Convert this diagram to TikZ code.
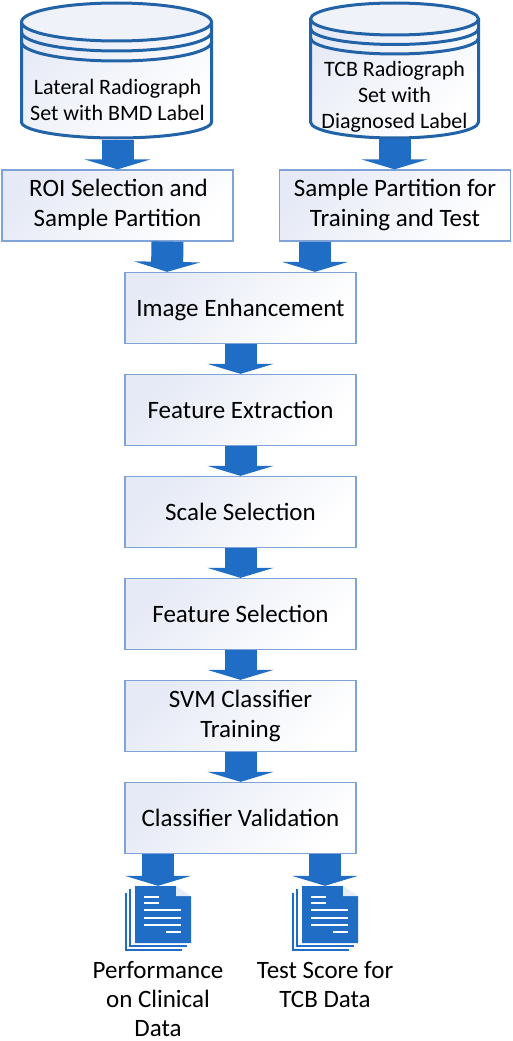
\documentclass[tikz,border=0pt]{standalone}
\usepackage{fontspec}
\setmainfont{Carlito}
\usetikzlibrary{arrows.meta}
\definecolor{flow}{HTML}{1F6DC4}
\definecolor{cyl}{HTML}{2263A8}
\definecolor{edge}{HTML}{7FA3D6}
\definecolor{tint}{HTML}{E6EAF6}
\tikzset{
  x=1pt,y=-1pt,
  procbox/.style={draw=edge,line width=1.3pt,left color=tint,right color=white,shading angle=45,
    minimum width=231pt,minimum height=71pt,inner sep=0pt,align=center,
    font=\fontsize{25}{30}\selectfont,
    execute at begin node={\rule{0pt}{22pt}},execute at end node={\rule[-5pt]{0pt}{5pt}}},
  blk/.style={draw=flow,line width=32pt,-{Triangle[width=66pt,length=10pt]}},
  dbshape/.style={minimum width=#1,minimum height=136pt,inner sep=0pt},
  dbtext/.style={align=center,font=\fontsize{22}{26}\selectfont},
  outtext/.style={align=center,inner sep=0pt,font=\fontsize{25}{29}\selectfont},
  docshape/.style={minimum width=56pt,minimum height=57pt,inner sep=0pt},
  cylline/.style={draw=cyl,line width=3pt},
  sheet/.style={draw=flow,line width=1.3pt},
  docline/.style={draw=white,line width=1.4pt},
}
\newcommand{\dbdraw}[5]{% cx, rx, ry, top centre y, ring step
  \path[left color=tint,right color=white,shading angle=45]
    (#1-#2,#4) -- (#1-#2,122) arc[start angle=180,end angle=360,x radius=#2,y radius=-16]
    -- (#1+#2,#4) arc[start angle=0,end angle=180,x radius=#2,y radius=-#3] -- cycle;
  \draw[cylline,line join=round]
    (#1-#2,#4) -- (#1-#2,122) arc[start angle=180,end angle=360,x radius=#2,y radius=-16] -- (#1+#2,#4);
  \draw[cylline,fill=tint!60!white] (#1,#4) ellipse[x radius=#2,y radius=#3];
  \draw[cylline] (#1-#2,#4+#5) arc[start angle=180,end angle=360,x radius=#2,y radius=-#3];
  \draw[cylline] (#1-#2,#4+2*#5) arc[start angle=180,end angle=360,x radius=#2,y radius=-#3];
}
\newcommand{\docdraw}[1]{% x offset of the front sheet's left edge
  \begin{scope}[shift={(#1,0)}]
    \draw[sheet] (-9,893) -- (-9,950) -- (47,950);
    \draw[sheet] (-5,889) -- (-5,946) -- (52,946);
    \fill[flow] (0,886) -- (41,886) -- (41,896) -- (56,896) -- (56,943) -- (0,943) -- cycle;
    \fill[white!88!flow] (41,886) -- (56,896) -- (41,896) -- cycle;
    \draw[docline] (9,897) -- (24,897);
    \draw[docline] (9,903) -- (24,903);
    \draw[docline] (9,910) -- (46,910);
    \draw[docline] (9,918) -- (46,918);
    \draw[docline] (9,925) -- (46,925);
    \draw[docline] (31,932) -- (46,932);
  \end{scope}
}
\begin{document}
\begin{tikzpicture}
\useasboundingbox (0,0) rectangle (512,1041);
\fill[white] (0,0) rectangle (512,1041);
% databases
\dbdraw{116.5}{95}{19}{22}{10}
\dbdraw{394.5}{84}{16}{19}{9.5}
\node[dbshape=190pt] (db1) at (116.5,71) {};
\node[dbshape=168pt] (db2) at (394.5,71) {};
\node[dbtext] (db1t) at (117.5,99.5) {Lateral Radiograph\\Set with BMD Label};
\node[dbtext] (db2t) at (394.5,96.5) {TCB Radiograph\\Set with\\Diagnosed Label};
% boxes
\node[procbox] (roi) at (117.5,205.5) {\hspace*{2pt}ROI Selection and\\Sample Partition};
\node[procbox] (part) at (395,205.5) {Sample Partition for\\Training and Test};
\node[procbox] (img) at (240.5,308) {Image Enhancement};
\node[procbox] (fe) at (240.5,410) {Feature Extraction};
\node[procbox] (ss) at (240.5,512) {Scale Selection};
\node[procbox] (fs) at (240.5,614) {Feature Selection};
\node[procbox] (svm) at (240.5,716) {SVM Classifier\\Training};
\node[procbox] (cv) at (240.5,818) {Classifier Validation};
% documents
\docdraw{135}
\docdraw{302}
\node[docshape] (doc1) at (163,914.5) {};
\node[docshape] (doc2) at (330,914.5) {};
\node[outtext,anchor=north] (out1) at (158,961) {Performance\\on Clinical\\Data};
\node[outtext,anchor=north] (out2) at (325,961) {Test Score for\\TCB Data};
% arrows
\draw[blk] (db1.south -| roi.north) ++(0,1) -- (roi.north);
\draw[blk] (db2.south) -- (db2.south |- part.north);
\draw[blk] ([xshift=50pt]roi.south) -- ([xshift=-73.5pt]img.north);
\draw[blk] ([xshift=-80pt]part.south) -- ([xshift=74.5pt]img.north);
\draw[blk] (img) ++(0,36) -- (fe.north);
\draw[blk] (fe.south) -- (ss.north);
\draw[blk] (ss.south) -- (fs.north);
\draw[blk] (fs.south) -- (svm.north);
\draw[blk] (svm.south) -- (cv.north);
\draw[blk] ([xshift=-82.5pt]cv.south) -- ([xshift=-5pt]doc1.north);
\draw[blk] ([xshift=84.5pt]cv.south) -- ([xshift=-5pt]doc2.north);
\end{tikzpicture}
\end{document}
